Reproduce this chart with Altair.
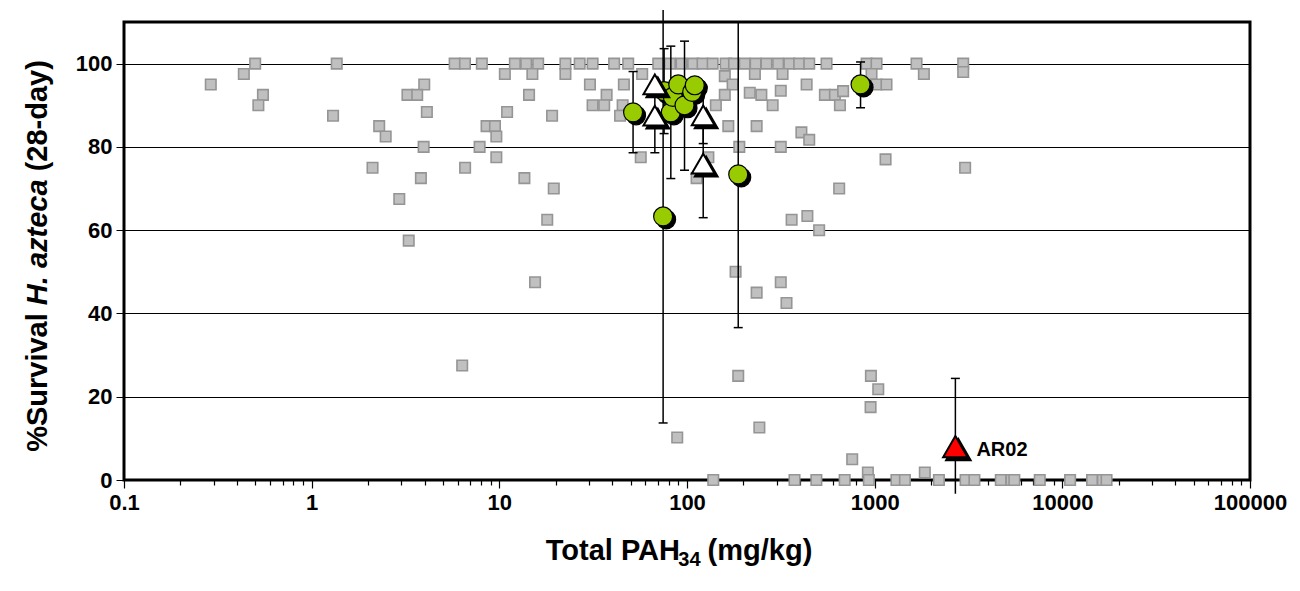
import altair as alt
import pandas as pd

# ---------------- data ----------------
gray_x = [
    # 100 %
    0.50, 1.36, 5.78, 6.56, 8.07, 12.1, 13.9, 16.1, 22.5, 26.8, 31.4, 40.9, 48.6, 70.3, 81.1,
    93.5, 107.8, 121, 137, 160.6, 178, 203, 232, 265, 306, 351, 396, 448, 554, 906, 1023,
    1671, 2963,
    # ~97.5 %
    0.435, 10.7, 15.0, 22.5, 57.7, 159, 230, 323, 962, 1829, 2963,
    # ~95 %
    0.29, 3.98, 30.4, 46.1, 175, 434, 1023, 1156,
    # ~92.5 %
    0.55, 3.24, 3.65, 14.4, 37.3, 159, 216, 249, 543, 614, 316, 679,
    # ~90 %
    0.52, 31.4, 36.2, 45.4, 142.5, 286, 653,
    # 88 - 80 %
    4.11, 11.0, 1.30, 19.1, 44, 2.29, 8.55, 9.48, 166, 235, 407, 448, 2.48, 9.64,
    3.95, 7.85, 190, 316,
    # 77.5 - 57.5 %
    9.64, 56.7, 130, 1143, 2.11, 6.57, 3034, 3.82, 13.6, 112.5, 19.5, 647, 2.93,
    438, 18.0, 361, 506, 3.29,
    # 50 - 5 %
    181.5, 15.5, 316, 235, 339, 6.34, 187.5, 955, 1045, 951, 243, 88.7, 759,
    # ~0 %
    920, 1850,
    138, 374, 489, 692, 931, 1306, 1449, 2200, 3050, 3400, 4700, 5360, 5550, 7580,
    11000, 14400, 16450, 17200,
]
gray_y = [
    100, 100, 100, 100, 100, 100, 100, 100, 100, 100, 100, 100, 100, 100, 100,
    100, 100, 100, 100, 100, 100, 100, 100, 100, 100, 100, 100, 100, 100, 100, 100,
    100, 100,
    97.5, 97.5, 97.5, 97.5, 97.5, 97, 97.5, 97.5, 97.5, 97.5, 98,
    95, 95, 95, 95, 95, 95, 95, 95,
    92.5, 92.5, 92.5, 92.5, 92.5, 92.5, 93, 92.5, 92.5, 92.5, 93.5, 93.4,
    90, 90, 90, 90, 90, 90, 90,
    88.4, 88.4, 87.5, 87.5, 87.5, 85, 85, 85, 85, 85, 83.5, 81.7, 82.5, 82.5,
    80, 80, 80, 80,
    77.5, 77.5, 77.5, 77, 75, 75, 75, 72.5, 72.5, 72.5, 70, 70, 67.5,
    63.4, 62.5, 62.5, 60, 57.5,
    50, 47.5, 47.5, 45, 42.5, 27.5, 25, 25, 21.8, 17.5, 12.6, 10.2, 5,
    1.8, 1.8,
    0, 0, 0, 0, 0, 0, 0, 0, 0, 0, 0, 0, 0, 0,
    0, 0, 0, 0,
]

green_x = [51.6, 74.6, 75.5, 82.0, 84.0, 89.8, 97.0, 106.6, 110.0, 187.5, 841]
green_y = [88.3, 63.3, 93.4, 88.3, 92.0, 95.0, 90.0, 93.2, 94.8, 73.4, 95.0]

tri_x = [67.4, 67.4, 122, 122]
tri_y = [95.0, 87.5, 87.6, 76.0]

red_x = [2692]
red_y = [8.0]
red_label = ["AR02"]

err_x = [51.6, 67.4, 75.5, 82.0, 97.0, 74.6, 122, 122, 187.5, 841, 2692]
err_lo = [78.6, 78.6, 83.2, 72.4, 74.4, 13.7, 80.8, 63.0, 36.6, 89.4, -3.3]
err_hi = [98.1, 96.4, 103.6, 104.2, 105.4, 112.9, 94.4, 89.0, 110.2, 100.4, 24.4]

cap_x = [51.6, 51.6, 67.4, 75.5, 75.5, 82.0, 82.0, 97.0, 97.0, 74.6, 122, 122, 122,
         187.5, 841, 841, 2692]
cap_y = [98.1, 78.6, 78.6, 103.6, 83.2, 104.2, 72.4, 105.4, 74.4, 13.7, 94.4, 80.8, 63.0,
         36.6, 100.4, 89.4, 24.4]

x_ticks = [0.1, 0.2, 0.3, 0.4, 0.5, 0.6, 0.7, 0.8, 0.9,
           1, 2, 3, 4, 5, 6, 7, 8, 9,
           10, 20, 30, 40, 50, 60, 70, 80, 90,
           100, 200, 300, 400, 500, 600, 700, 800, 900,
           1000, 2000, 3000, 4000, 5000, 6000, 7000, 8000, 9000,
           10000, 20000, 30000, 40000, 50000, 60000, 70000, 80000, 90000,
           100000]
y_ticks = [0, 20, 40, 60, 80, 100]

# ---------------- tables ----------------
gray_df = pd.DataFrame({"x": gray_x, "y": gray_y})
green_df = pd.DataFrame({"x": green_x, "y": green_y})
tri_df = pd.DataFrame({"x": tri_x, "y": tri_y})
red_df = pd.DataFrame({"x": red_x, "y": red_y, "label": red_label})
err_df = pd.DataFrame({"x": err_x, "lo": err_lo, "hi": err_hi})
cap_df = pd.DataFrame({"x": cap_x, "y": cap_y})

FONT = "Liberation Sans"
W, H = 1126, 458
FS_L = 22   # tick label size
FS_T = 29   # axis title size
FS_SUB = 20 # subscript size

xscale = alt.Scale(type="log", domain=[0.1, 100000])
yscale = alt.Scale(domain=[0, 110])

IS_MAJOR = "abs(log(datum.value)/LN10 - round(log(datum.value)/LN10)) < 0.000001"

X_main = alt.X(
    "x:Q", scale=xscale,
    axis=alt.Axis(values=x_ticks, format="~g",
                  labelExpr=f"({IS_MAJOR}) ? datum.label : ''",
                  labelOverlap=False, labelFlush=False, title=None,
                  tickSize={"condition": {"test": IS_MAJOR, "value": 8}, "value": 5},
                  tickColor="black", tickWidth=1.2, labelPadding=4,
                  labelFontSize=FS_L, labelFont=FONT, labelFontWeight="bold", labelColor="black",
                  domain=False, grid=False),
)
Y_main = alt.Y(
    "y:Q", scale=yscale,
    axis=alt.Axis(values=y_ticks, title=None, tickSize=8, tickColor="black", tickWidth=1,
                  labelPadding=4, labelFontSize=FS_L, labelFont=FONT, labelFontWeight="bold",
                  labelColor="black", domain=False, grid=True, gridColor="black",
                  gridWidth=1, gridOpacity=1),
)

gray = alt.Chart(gray_df).mark_square(
    size=110, fill="#c0c0c0", stroke="#959595", strokeWidth=1.6, opacity=1
).encode(x=X_main, y=Y_main)

bars = alt.Chart(err_df).mark_rule(color="black", strokeWidth=1.5).encode(
    x=alt.X("x:Q", scale=xscale), y=alt.Y("lo:Q", scale=yscale), y2="hi:Q"
)
caps = alt.Chart(cap_df).mark_tick(
    orient="horizontal", color="black", thickness=1.5, size=9, opacity=1
).encode(x=alt.X("x:Q", scale=xscale), y=alt.Y("y:Q", scale=yscale))


def shadowed(df, shape, size, fill, stroke_w):
    shadow = alt.Chart(df).mark_point(
        shape=shape, size=size, filled=True, fill="black", stroke="black",
        strokeWidth=stroke_w, opacity=1, xOffset=3, yOffset=3
    ).encode(x=alt.X("x:Q", scale=xscale), y=alt.Y("y:Q", scale=yscale))
    front = alt.Chart(df).mark_point(
        shape=shape, size=size, filled=True, fill=fill, stroke="black",
        strokeWidth=stroke_w, opacity=1
    ).encode(x=alt.X("x:Q", scale=xscale), y=alt.Y("y:Q", scale=yscale))
    return shadow, front


g_sh, g_fr = shadowed(green_df, "circle", 360, "#99cc00", 1.2)
t_sh, t_fr = shadowed(tri_df, "triangle-up", 520, "white", 2)
r_sh, r_fr = shadowed(red_df, "triangle-up", 600, "#ff0000", 2)

label = alt.Chart(red_df).mark_text(
    align="left", baseline="middle", dx=21, dy=3, font=FONT, fontSize=20,
    fontWeight="bold", color="black"
).encode(x=alt.X("x:Q", scale=xscale), y=alt.Y("y:Q", scale=yscale), text="label:N")


def text_run(txt, xx, yy, size, style="normal", angle=0, baseline="middle"):
    mk = dict(align="left", baseline=baseline, font=FONT, fontSize=size,
              fontWeight="bold", fontStyle=style, color="black")
    if angle:
        mk["angle"] = angle
    return alt.Chart(pd.DataFrame({"t": [txt]})).mark_text(**mk).encode(
        x=alt.value(xx), y=alt.value(yy), text="t:N")


# y-axis title in three runs (middle run italic), rotated to read upwards
sp = 0.278 * FS_T
w1 = 4.780 * FS_T   # "%Survival"
w2 = 4.335 * FS_T   # "H. azteca"
w3 = 3.834 * FS_T   # "(28-day)"
y_start = 234 + (w1 + w2 + w3 + 2 * sp) / 2
yt_parts = [
    text_run("%Survival", -86, y_start, FS_T, angle=270),
    text_run("H. azteca", -86, y_start - w1 - sp, FS_T, "italic", angle=270),
    text_run("(28-day)", -86, y_start - w1 - w2 - 2 * sp, FS_T, angle=270),
]

# x-axis title with a real subscript
xw1 = 4.778 * FS_T - 7  # "Total PAH"
xw2 = 1.112 * FS_SUB    # "34"
xw3 = 3.611 * FS_T      # "(mg/kg)"
x_start = 555 - (xw1 + xw2 + sp + xw3) / 2
base_y = H + 80
xt_parts = [
    text_run("Total PAH", x_start, base_y, FS_T, baseline="alphabetic"),
    text_run("34", x_start + xw1 + 1, base_y + 6, FS_SUB, baseline="alphabetic"),
    text_run("(mg/kg)", x_start + xw1 + xw2 + sp, base_y, FS_T, baseline="alphabetic"),
]

chart = alt.layer(
    gray, bars, caps, g_sh, g_fr, t_sh, t_fr, r_sh, r_fr, label, *yt_parts, *xt_parts
).properties(
    width=W, height=H,
    autosize=alt.AutoSizeParams(type="none"),
    padding={"left": 124, "top": 22, "right": 50, "bottom": 111},
    background="white",
).configure_view(stroke="black", strokeWidth=3)

chart.save("out.html", embed_options={"renderer": "svg", "actions": False})
